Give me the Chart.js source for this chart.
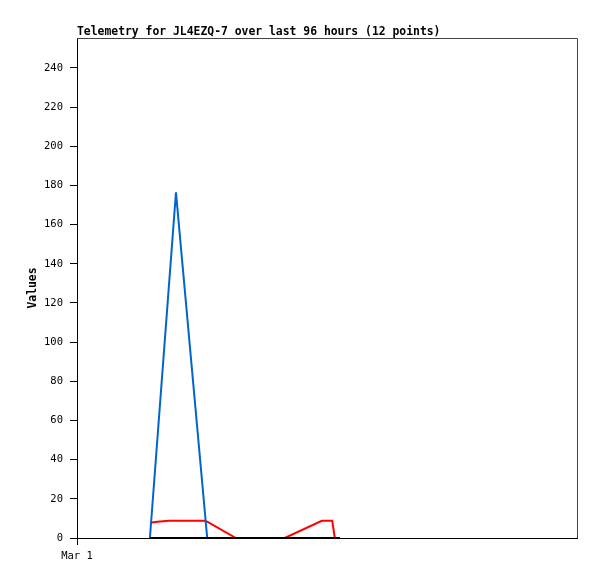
<!DOCTYPE html>
<html>
<head>
<meta charset="utf-8">
<script src="https://cdn.jsdelivr.net/npm/chart.js@4"></script>
<style>
  html, body { margin: 0; padding: 0; background: #fff; }
  #wrap { width: 597px; height: 579px; }
</style>
</head>
<body>
<div id="wrap"><canvas id="chart" width="597" height="579"></canvas></div>
<script>
/* ================== DATA ================== */
// hours since Mar 1 00:00
const hours = [14.0, 15.4, 17.7, 19.0, 24.4, 25.0, 30.5, 39.9, 47.0, 49.0, 49.5, 50.5];
const blueValues = [0, null, null, 176.5, null, 0, 0, 0, 0, 0, 0, 0];
const redValues = [7.8, 8.3, 8.8, 8.8, 8.8, 8.3, 0, 0, 8.8, 8.8, 0, 0];
const blackValues = [0, 0, 0, 0, 0, 0, 0, 0, 0, 0, 0, 0];
const yTicks = [0, 20, 40, 60, 80, 100, 120, 140, 160, 180, 200, 220, 240];
const xTickLabel = "Mar 1";
const TITLE = "Telemetry for JL4EZQ-7 over last 96 hours (12 points)";
const Y_LABEL = "Values";

/* ================== CONFIG ================== */
const FONT = "'DejaVu Sans Mono', monospace";
const toPoints = (vals) => hours.map((h, i) => ({ x: h, y: vals[i] }));

const line = (vals, color) => ({
  data: toPoints(vals),
  borderColor: color,
  borderWidth: 2,
  pointRadius: 0,
  tension: 0,
  fill: false,
  spanGaps: true,
});

// title, y label and grey frame
const decorPlugin = {
  id: "decor",
  afterDraw(chart) {
    const { ctx, chartArea: a } = chart;
    ctx.save();
    ctx.strokeStyle = "#444";
    ctx.lineWidth = 1;
    ctx.beginPath();
    ctx.moveTo(a.left, a.top + 0.5);
    ctx.lineTo(a.right + 0.5, a.top + 0.5);
    ctx.lineTo(a.right + 0.5, a.bottom);
    ctx.stroke();

    ctx.fillStyle = "#000";
    ctx.font = `bold 11.4px ${FONT}`;
    ctx.textBaseline = "alphabetic";
    ctx.textAlign = "left";
    ctx.fillText(TITLE, a.left, 35);

    ctx.translate(36, (a.top + a.bottom) / 2);
    ctx.rotate(-Math.PI / 2);
    ctx.textAlign = "center";
    ctx.fillText(Y_LABEL, 0, 0);
    ctx.restore();
  },
};

new Chart(document.getElementById("chart"), {
  type: "line",
  data: {
    datasets: [
      line(blackValues, "#000000"),
      line(blueValues, "#0066cc"),
      line(redValues, "#ff0000"),
    ],
  },
  options: {
    responsive: false,
    animation: false,
    layout: { padding: { top: 38, right: 20, left: 0, bottom: 0 } },
    plugins: { legend: { display: false }, tooltip: { enabled: false } },
    scales: {
      x: {
        type: "linear",
        min: 0,
        max: 96,
        afterBuildTicks: (s) => { s.ticks = [{ value: 0 }]; },
        afterFit: (s) => { s.height = 41; },
        ticks: {
          color: "#000",
          font: { family: FONT, size: 10.5 },
          padding: 5,
          maxRotation: 0,
          callback: () => xTickLabel,
        },
        grid: { drawOnChartArea: false, drawTicks: true, tickLength: 7, color: "#000" },
        border: { display: true, color: "#000", width: 1 },
      },
      y: {
        min: 0,
        max: 255.3,
        afterBuildTicks: (s) => { s.ticks = yTicks.map((v) => ({ value: v })); },
        afterFit: (s) => { s.width = 77; },
        ticks: {
          color: "#000",
          font: { family: FONT, size: 10.5 },
          padding: 7,
        },
        grid: { drawOnChartArea: false, drawTicks: true, tickLength: 7, color: "#000" },
        border: { display: true, color: "#000", width: 1 },
      },
    },
  },
  plugins: [decorPlugin],
});
</script>
</body>
</html>
